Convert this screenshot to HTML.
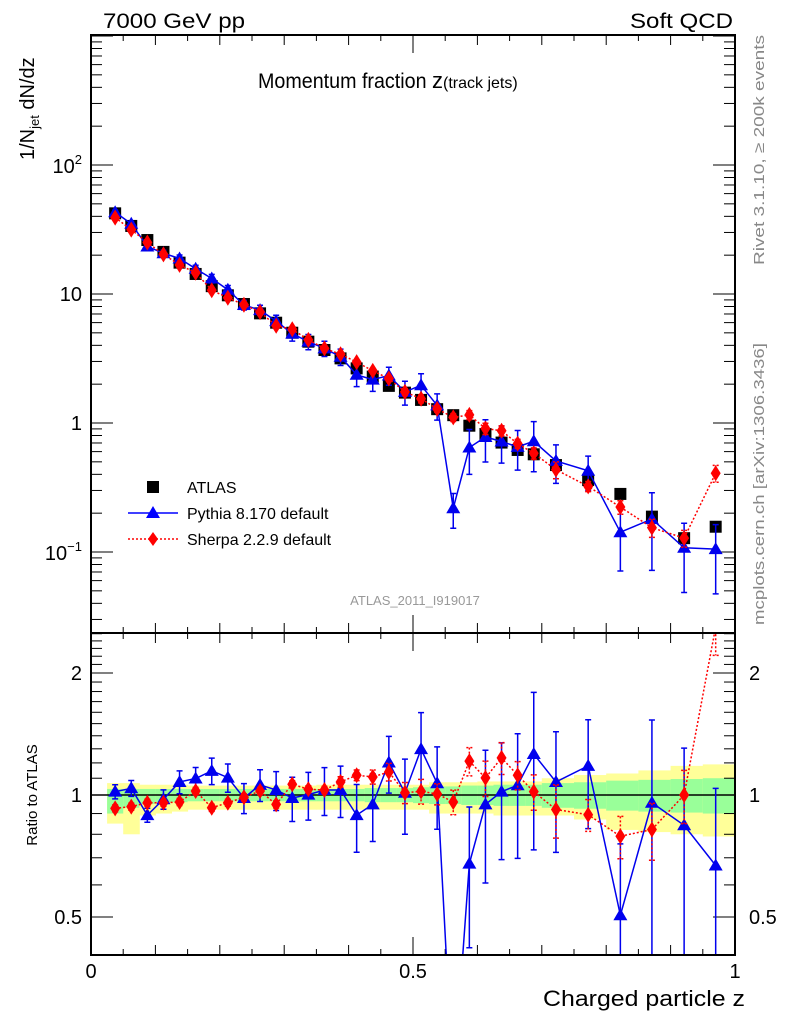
<!DOCTYPE html>
<html><head><meta charset="utf-8"><style>
html,body{margin:0;padding:0;background:#fff;overflow:hidden;width:786px;height:1024px}
svg{display:block;font-family:"Liberation Sans",sans-serif}
</style></head><body>
<svg id="chart" width="786" height="1024" viewBox="0 0 786 1024" xmlns="http://www.w3.org/2000/svg">
<defs>
<clipPath id="clipMain"><rect x="91" y="35" width="644" height="598"/></clipPath>
<clipPath id="clipRatio"><rect x="91" y="633" width="644" height="322"/></clipPath>
</defs>
<g id="bands" clip-path="url(#clipRatio)"></g>
<g id="ticks"></g>
<g id="series-main" clip-path="url(#clipMain)"></g>
<g id="series-ratio" clip-path="url(#clipRatio)"></g>
<rect x="91" y="35" width="644" height="598" fill="none" stroke="#000" stroke-width="2"/>
<rect x="91" y="633" width="644" height="322" fill="none" stroke="#000" stroke-width="2"/>
<text x="103" y="28" font-size="21" textLength="142" lengthAdjust="spacingAndGlyphs">7000 GeV pp</text>
<text x="733" y="28" font-size="21" text-anchor="end" textLength="103" lengthAdjust="spacingAndGlyphs">Soft QCD</text>
<text x="258" y="88" font-size="21"><tspan textLength="174" lengthAdjust="spacingAndGlyphs">Momentum fraction </tspan><tspan font-size="22">z</tspan><tspan font-size="16">(track jets)</tspan></text>
<text transform="translate(34,160) rotate(-90)" font-size="20">1/N<tspan font-size="13" dy="5">jet</tspan><tspan dy="-5"> dN/dz</tspan></text>
<text transform="translate(37,795) rotate(-90)" font-size="15" text-anchor="middle">Ratio to ATLAS</text>
<text transform="translate(764,265) rotate(-90)" font-size="15" fill="#888" textLength="230" lengthAdjust="spacingAndGlyphs">Rivet 3.1.10, ≥ 200k events</text>
<text transform="translate(764,625) rotate(-90)" font-size="15" fill="#888" textLength="282" lengthAdjust="spacingAndGlyphs">mcplots.cern.ch [arXiv:1306.3436]</text>
<text x="415" y="605" font-size="13" fill="#999" text-anchor="middle">ATLAS_2011_I919017</text>
<text x="745" y="1006" font-size="22" text-anchor="end" textLength="202" lengthAdjust="spacingAndGlyphs">Charged particle z</text>
<g>
<rect x="147" y="481" width="12" height="12" fill="#000"/>
<text x="187" y="493" font-size="16">ATLAS</text>
<line x1="128" y1="513" x2="178" y2="513" stroke="#00f" stroke-width="1.5"/>
<polygon points="153,506 160,518 146,518" fill="#00f"/>
<text x="187" y="519" font-size="16">Pythia 8.170 default</text>
<line x1="128" y1="539" x2="178" y2="539" stroke="#f00" stroke-width="1.5" stroke-dasharray="2,2"/>
<polygon points="153,532 158,539 153,546 148,539" fill="#f00"/>
<text x="187" y="545" font-size="16">Sherpa 2.2.9 default</text>
</g>
</svg>
<script>
const zPoints = [0.0375,0.0625,0.0875,0.1125,0.1375,0.1625,0.1875,0.2125,0.2375,0.2625,0.2875,0.3125,0.3375,0.3625,0.3875,0.4125,0.4375,0.4625,0.4875,0.5125,0.5375,0.5625,0.5875,0.6125,0.6375,0.6625,0.6875,0.722,0.772,0.822,0.871,0.921,0.97];
const binLo = [0.025,0.05,0.075,0.1,0.125,0.15,0.175,0.2,0.225,0.25,0.275,0.3,0.325,0.35,0.375,0.4,0.425,0.45,0.475,0.5,0.525,0.55,0.575,0.6,0.625,0.65,0.675,0.7,0.75,0.8,0.85,0.9,0.95];
const binHi = [0.05,0.075,0.1,0.125,0.15,0.175,0.2,0.225,0.25,0.275,0.3,0.325,0.35,0.375,0.4,0.425,0.45,0.475,0.5,0.525,0.55,0.575,0.6,0.625,0.65,0.675,0.7,0.75,0.8,0.85,0.9,0.95,1.0];
const atlasValues = [42.2,33.7,26.2,21.2,17.5,14.3,11.5,9.77,8.36,7.08,5.99,5.01,4.27,3.68,3.17,2.65,2.29,1.94,1.72,1.51,1.28,1.15,0.953,0.822,0.705,0.618,0.572,0.472,0.361,0.282,0.188,0.128,0.157];
const pythiaRatio = [1.019,1.039,0.892,0.976,1.077,1.098,1.147,1.104,0.983,1.059,1.029,0.983,1.002,1.029,1.029,0.892,0.948,1.203,1.013,1.298,1.069,0.19,0.677,0.948,1.019,1.057,1.262,1.077,1.180,0.505,0.957,0.842,0.670];
const pythiaErr = [0.04,0.045,0.04,0.055,0.065,0.065,0.075,0.08,0.085,0.09,0.11,0.125,0.135,0.135,0.145,0.19,0.19,0.16,0.21,0.23,0.23,0.3,0.38,0.36,0.32,0.34,0.42,0.33,0.3,0.5,0.6,0.55,0.55];
const sherpaRatio = [0.927,0.936,0.957,0.957,0.961,1.023,0.930,0.957,0.987,1.023,0.948,1.063,1.033,1.029,1.077,1.119,1.108,1.140,1.013,1.021,1.006,0.961,1.212,1.102,1.235,1.119,1.019,0.921,0.894,0.791,0.822,1.0,2.6];
const sherpaErr = [0.02,0.02,0.02,0.02,0.02,0.02,0.02,0.02,0.02,0.02,0.02,0.02,0.02,0.02,0.03,0.03,0.04,0.05,0.06,0.07,0.06,0.07,0.08,0.1,0.09,0.08,0.1,0.15,0.09,0.12,0.16,0.15,0.15];
const greenUp = [0.035,0.035,0.035,0.035,0.035,0.035,0.035,0.035,0.035,0.035,0.035,0.035,0.035,0.035,0.035,0.035,0.04,0.04,0.04,0.045,0.05,0.05,0.055,0.055,0.06,0.06,0.06,0.07,0.075,0.085,0.09,0.095,0.1];
const greenDn = [0.1,0.07,0.05,0.04,0.04,0.035,0.035,0.035,0.035,0.035,0.035,0.035,0.035,0.035,0.035,0.035,0.04,0.04,0.04,0.045,0.05,0.05,0.055,0.055,0.06,0.06,0.06,0.07,0.075,0.085,0.09,0.095,0.1];
const yellowUp = [0.07,0.07,0.06,0.06,0.06,0.055,0.055,0.055,0.055,0.055,0.055,0.055,0.055,0.06,0.06,0.06,0.06,0.06,0.06,0.06,0.075,0.075,0.075,0.08,0.08,0.08,0.08,0.1,0.12,0.13,0.15,0.18,0.19];
const yellowDn = [0.15,0.2,0.11,0.1,0.09,0.08,0.08,0.08,0.08,0.08,0.08,0.08,0.08,0.08,0.08,0.08,0.08,0.08,0.08,0.08,0.1,0.1,0.1,0.1,0.11,0.11,0.11,0.11,0.13,0.18,0.19,0.2,0.21];
const mainTickLabels = ["10","1"];
const ratioTickValues = [0.5,1,2];
const ratioTickLabels = ["0.5","1","2"];
const xTickValues = [0,0.5,1];
const xTickLabels = ["0","0.5","1"];

const NS="http://www.w3.org/2000/svg";
const X0=91,X1=735,MT=35,MB=633,RT=633,RB=955;
function xs(z){return X0+z*(X1-X0);}
function ym(v){return 423-129*Math.log10(v);}
function yr(r){return 795-122*Math.log2(r);}
function mk(tag,attrs,parent){const e=document.createElementNS(NS,tag);for(const k in attrs)e.setAttribute(k,attrs[k]);parent.appendChild(e);return e;}
const ticks=document.getElementById('ticks');
const bands=document.getElementById('bands');
const sm=document.getElementById('series-main');
const sr=document.getElementById('series-ratio');
const svg=document.getElementById('chart');

for(let i=0;i<=20;i++){
  const z=i*0.05, x=xs(z);
  const L = (i%10===0)?18:(i%2===0?10:6);
  [[MT,1],[MB,-1],[RT,1],[RB,-1]].forEach(([y,d])=>{
    const t=mk('line',{x1:x,x2:x,y1:y,y2:y+d*L,stroke:'#000','stroke-width':1},ticks);
    
    
  });
}
xTickValues.forEach((v,i)=>{
  const t=mk('text',{x:xs(v),y:978,'font-size':20,'text-anchor':'middle'},svg);
  t.textContent=xTickLabels[i];
  
  
});
for(let d=-2;d<=3;d++){
  for(let m=1;m<=9;m++){
    const v=m*Math.pow(10,d), y=ym(v);
    if(y<MT||y>MB) continue;
    const L=m===1?22:11;
    [[X0,1],[X1,-1]].forEach(([x,s])=>{
      const t=mk('line',{x1:x,x2:x+s*L,y1:y,y2:y,stroke:'#000','stroke-width':1},ticks);
      
      
    });
  }
}
function yLabel(y,base,exp){
  const t=mk('text',{x:82,y:y+7,'font-size':20,'text-anchor':'end'},svg);
  t.textContent=base;
  if(exp){const s=mk('tspan',{'font-size':13,dy:-9},t);s.textContent=exp;}
  
  
}
yLabel(ym(100)+1,"10","2");
yLabel(ym(10),mainTickLabels[0],null);
yLabel(ym(1),mainTickLabels[1],null);
yLabel(ym(0.1)+1,"10","−1");
for(let k=4;k<=25;k++){
  const r=k/10, y=yr(r);
  if(y<RT||y>RB) continue;
  const L=(k===5||k===10||k===20)?22:11;
  [[X0,1],[X1,-1]].forEach(([x,s])=>{
    const t=mk('line',{x1:x,x2:x+s*L,y1:y,y2:y,stroke:'#000','stroke-width':1},ticks);
    
    
  });
}
ratioTickValues.forEach((v,i)=>{
  [[82,'end'],[749,'start']].forEach(([x,a])=>{
    const t=mk('text',{x:x,y:yr(v)+7,'font-size':20,'text-anchor':a},svg);
    t.textContent=ratioTickLabels[i];
    
    
  });
});
binLo.forEach((lo,i)=>{
  const x=xs(lo), w=xs(binHi[i])-x;
  const y1=mk('rect',{x:x,y:yr(1+yellowUp[i]),width:w+0.5,height:yr(1-yellowDn[i])-yr(1+yellowUp[i]),fill:'#ffff99'},bands);
  
  
  const g1=mk('rect',{x:x,y:yr(1+greenUp[i]),width:w+0.5,height:yr(1-greenDn[i])-yr(1+greenUp[i]),fill:'#99ff99'},bands);
  
  
});
const ref=mk('line',{x1:X0,x2:X1,y1:yr(1),y2:yr(1),stroke:'#000','stroke-width':1.5},bands);



function drawSeries(parent,vals,errs,yf,color,dash,shape,name){
  let pts=vals.map((v,i)=>xs(zPoints[i])+','+yf(v)).join(' ');
  const pl=mk('polyline',{points:pts,fill:'none',stroke:color,'stroke-width':1.5,'stroke-dasharray':dash||'none'},parent);
  
  
  vals.forEach((v,i)=>{
    const x=xs(zPoints[i]), y=yf(v);
    const ya=yf(v*(1+errs[i])), yb=yf(Math.max(v*(1-errs[i]),1e-4));
    const e=mk('path',{d:`M${x},${ya}V${yb}M${x-3},${ya}H${x+3}M${x-3},${yb}H${x+3}`,stroke:color,'stroke-width':1.5,fill:'none','stroke-dasharray':dash||'none'},parent);
    
    
    let m;
    if(shape==='tri') m=mk('polygon',{points:`${x},${y-7} ${x+7},${y+5} ${x-7},${y+5}`,fill:color},parent);
    else m=mk('polygon',{points:`${x},${y-8} ${x+5},${y} ${x},${y+8} ${x-5},${y}`,fill:color},parent);
    
    
  });
}
atlasValues.forEach((v,i)=>{
  const r=mk('rect',{x:xs(zPoints[i])-6,y:ym(v)-6,width:12,height:12,fill:'#000'},sm);
  
  
});
const pythiaMain=atlasValues.map((v,i)=>v*pythiaRatio[i]);
const sherpaMain=atlasValues.map((v,i)=>v*sherpaRatio[i]);
drawSeries(sm,pythiaMain,pythiaErr,ym,'#0000ee',null,'tri','pythia');
drawSeries(sm,sherpaMain,sherpaErr,ym,'#ff0000','2,2','dia','sherpa');
drawSeries(sr,pythiaRatio,pythiaErr,yr,'#0000ee',null,'tri','pythia-ratio');
drawSeries(sr,sherpaRatio,sherpaErr,yr,'#ff0000','2,2','dia','sherpa-ratio');
</script>
</body></html>
